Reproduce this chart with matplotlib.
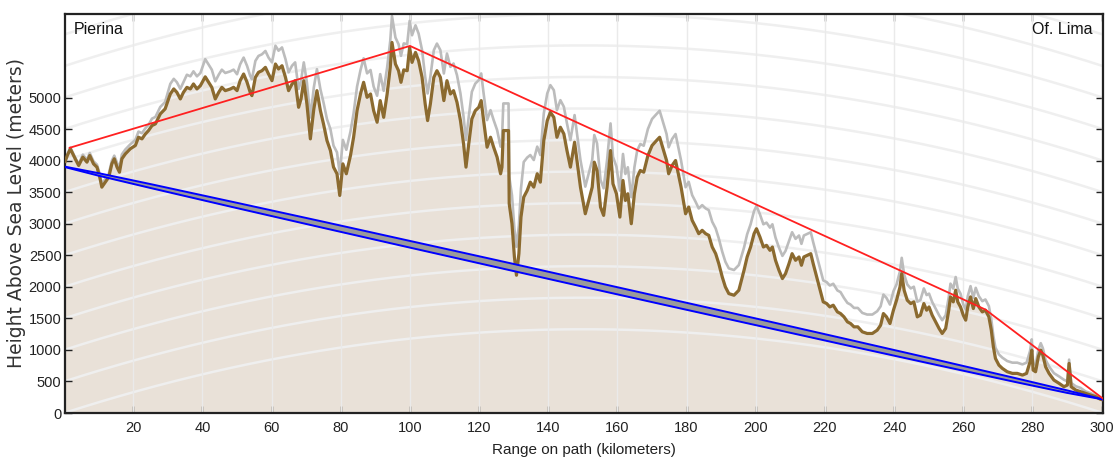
import numpy as np
import matplotlib
matplotlib.use("Agg")
import matplotlib.pyplot as plt

# ---------------- data ----------------
dist_km = [0.3, 0.9, 1.8, 3.2, 4.2, 5.4, 6.6, 7.4, 8.5, 9.5, 10.3, 10.9, 11.9, 12.9, 13.8, 14.5,
           15.3, 16.0, 16.7, 17.7, 19.1, 20.6, 21.5, 22.5, 23.5, 24.4, 25.4, 26.4, 27.8, 29.2,
           30.7, 31.7, 32.6, 33.6, 34.5, 35.5, 36.5, 37.4, 38.4, 39.4, 40.8, 41.8, 42.7, 43.7,
           44.7, 45.6, 46.6, 48.1,
           49.0, 50.0, 50.9, 51.9, 52.9, 53.8, 54.3, 55.3, 56.2, 57.2, 58.2, 59.1, 60.1, 61.1,
           62.0, 63.0, 64.0, 64.9, 65.9, 66.8, 67.8, 68.5, 69.3, 70.2, 71.2, 72.2, 73.1, 74.1,
           75.0, 76.0, 77.0, 77.9, 78.9, 79.7, 80.6, 81.6, 82.8, 83.7, 84.7, 85.7, 86.6, 87.6,
           88.6, 89.5, 90.5, 91.4, 92.4, 93.4, 94.3, 94.8, 95.8, 96.7, 97.4, 98.2, 99.2, 99.9,
           100.6, 101.6, 102.5, 103.5, 104.4, 105.1, 105.9, 106.9, 107.8, 108.8, 109.8, 110.7,
           111.7, 112.6, 113.6, 114.6, 115.5, 116.2, 117.0, 117.9, 118.9, 119.9, 120.6, 121.3,
           122.3, 123.3, 124.2, 125.2, 126.2, 126.6, 127.0, 128.5, 128.7, 129.5, 130.2, 130.8,
           131.5, 132.1, 132.9, 133.9, 134.8, 135.8, 136.8, 137.7, 138.7, 139.7, 140.6, 141.6,
           142.5, 143.5, 144.5, 145.4, 146.4,
           147.6, 148.3, 149.3, 150.7, 151.7, 152.7, 153.3, 154.1, 155.1, 156.0, 157.0, 158.0,
           158.7, 159.7, 160.7, 161.6, 162.3, 163.0, 164.0, 164.9, 165.7, 166.6, 167.6, 168.8,
           170.0, 171.3, 172.2, 173.2, 174.2, 174.8, 175.8, 176.8, 177.4, 178.4, 179.7, 180.6,
           181.6, 182.6, 183.5, 184.5, 185.5, 186.4, 187.4, 188.4, 189.3, 190.3, 191.2, 192.2,
           193.7, 195.1,
           196.6, 197.5, 198.5, 199.5, 200.2, 201.2, 202.2, 203.1, 204.1, 204.8, 205.7, 206.7,
           207.7, 208.6, 209.6, 210.5, 211.5, 212.5, 213.2, 213.9, 214.9, 215.9, 216.6, 217.6,
           218.6, 219.5, 220.5, 221.4, 222.4, 223.6, 224.5, 225.5, 226.5, 227.4, 228.4, 229.5,
           230.8, 232.2, 233.7, 235.1, 236.1, 236.9, 237.8, 238.8, 239.8, 240.7, 241.7, 242.2,
           242.9, 243.8,
           244.8, 245.7, 246.7, 247.6, 248.6, 249.4, 250.1, 251.0, 252.0, 253.0, 253.9, 254.9,
           255.8, 256.3, 257.1, 257.8, 258.4, 259.2, 260.0, 260.7, 261.3, 262.1, 262.9, 263.6,
           264.5, 265.5, 266.4, 267.4, 268.1, 268.7, 269.3, 270.3, 271.3, 272.7, 274.2, 275.6,
           277.1, 278.3, 279.3, 279.8, 280.2, 280.9, 281.7, 282.4, 283.0, 283.8, 284.8, 286.2,
           287.7, 289.1, 290.1, 290.6, 291.2, 292.5, 293.9, 295.4, 296.8, 298.3, 299.7, 300.3]

terrain_m = [3990, 4080, 4188, 4030, 3924, 4056, 3977, 4082, 3950, 3897, 3739, 3581, 3660, 3739, 3950, 4030,
             3897, 3818, 4030, 4108, 4188, 4241, 4372, 4346, 4425, 4478, 4557, 4584, 4742, 4821,
             5058, 5138, 5084, 4979, 5084, 5163, 5138, 5217, 5138, 5190, 5330, 5242, 5163, 4979,
             5084, 5163, 5111, 5138,
             5164, 5111, 5269, 5375, 5243, 5084, 5032, 5322, 5401, 5427, 5480, 5375, 5269, 5533,
             5454, 5506, 5322, 5111, 5216, 5269, 4847, 4979, 5269, 4900, 4346, 4821, 5111, 4794,
             4583, 4320, 4161, 3898, 3793, 3449, 3950, 3793, 4082, 4372, 4794, 5058, 5243, 5005,
             5058, 4794, 4610, 4953, 4688, 5058, 5480, 5875, 5533, 5427, 5243, 5440, 5427, 5796,
             5559, 5717, 5585, 5322, 4900, 4636, 4900, 5322, 5427, 5322, 4953, 5269,
             5058, 5111, 4926, 4636, 4267, 3898, 4267, 4663, 4794, 4847, 4953, 4636,
             4214, 4372, 4214, 4056, 3793, 3898, 4478, 4478, 3318, 3001, 2474, 2184,
             2526, 3106, 3423, 3528, 3660, 3581, 3793, 3660, 4320, 4636, 4768, 4688,
             4372, 4530, 4425, 4161, 3898,
             4293, 4003, 3581, 3159, 3370, 3581, 3977, 3845, 3265, 3133, 3581, 4161,
             3634, 3476, 3106, 3687, 3370, 3476, 3001, 3476, 3739, 3845, 3818, 4082,
             4241, 4320, 4372, 4188, 4003, 3793, 3924, 4003, 3845, 3581, 3159, 3265,
             3054, 2948, 2843, 2896, 2843, 2817, 2632, 2526, 2368, 2157, 1999, 1893,
             1867, 1946,
             2263, 2474, 2632, 2843, 2922, 2790, 2632, 2658, 2579, 2632, 2421, 2263,
             2131, 2210, 2368, 2526, 2421, 2474, 2342, 2474, 2500, 2526, 2368, 2157,
             1946, 1762, 1735, 1682, 1709, 1603, 1577, 1524, 1445, 1419, 1366, 1366,
             1287, 1261, 1261, 1313, 1392, 1577, 1524, 1419, 1630, 1788, 1999, 2210,
             1946, 1788,
             1735, 1762, 1524, 1551, 1735, 1630, 1682, 1551, 1445, 1340, 1261, 1340,
             1630, 1841, 1762, 1946, 1762, 1682, 1551, 1472, 1682, 1841, 1656, 1814,
             1682, 1603, 1630, 1524, 1313, 1050, 865, 759, 707, 654, 628, 628,
             601, 628, 812, 997, 680, 654, 891, 997, 918, 733, 628, 522,
             470, 417, 443, 786, 417, 364, 338, 311, 285, 259, 216, 210]

clutter_m = [4010, 4100, 4208, 4050, 3944, 4096, 4017, 4122, 3990, 3937, 3789, 3631, 3710, 3789, 4000, 4080,
             3967, 3888, 4100, 4178, 4258, 4331, 4462, 4436, 4515, 4568, 4667, 4694, 4852, 4931,
             5218, 5298, 5244, 5139, 5244, 5363, 5338, 5417, 5338, 5390, 5610, 5522, 5443, 5259,
             5364, 5443, 5391, 5418,
             5444, 5371, 5529, 5635, 5503, 5344, 5292, 5582, 5661, 5687, 5740, 5635, 5559, 5823,
             5744, 5796, 5612, 5401, 5506, 5559, 5137, 5269, 5559, 5240, 4686, 5161, 5451, 5134,
             4923, 4660, 4501, 4238, 4133, 3789, 4330, 4173, 4462, 4752, 5174, 5438, 5623, 5385,
             5438, 5174, 5030, 5373, 5108, 5478, 5900, 6295, 5953, 5847, 5663, 5860, 5847, 6216,
             5989, 6147, 6015, 5752, 5330, 5066, 5330, 5752, 5857, 5752, 5383, 5699,
             5488, 5541, 5356, 5066, 4697, 4328, 4697, 5093, 5224, 5277, 5383, 5066,
             4644, 4802, 4644, 4486, 4223, 4328, 4908, 4908, 3748, 3451, 2924, 2634,
             2976, 3556, 3980, 4050, 4090, 4011, 4223, 4090, 4750, 5066, 5198, 5118,
             4802, 4960, 4855, 4591, 4328,
             4723, 4433, 4011, 3589, 3800, 4011, 4407, 4275, 3695, 3563, 4011, 4591,
             4064, 3906, 3526, 4107, 3790, 3896, 3421, 3896, 4159, 4265, 4238, 4502,
             4661, 4740, 4792, 4608, 4423, 4213, 4344, 4423, 4265, 4001, 3579, 3665,
             3454, 3348, 3243, 3296, 3243, 3217, 3032, 2926, 2768, 2557, 2399, 2293,
             2267, 2346,
             2623, 2834, 2992, 3203, 3282, 3150, 2992, 3018, 2939, 2992, 2781, 2623,
             2491, 2570, 2728, 2866, 2761, 2814, 2682, 2814, 2840, 2866, 2708, 2497,
             2286, 2102, 2075, 2022, 2049, 1943, 1917, 1824, 1745, 1719, 1666, 1666,
             1587, 1561, 1561, 1613, 1692, 1877, 1824, 1719, 1930, 2038, 2249, 2460,
             2196, 2038,
             1975, 2002, 1764, 1791, 1975, 1870, 1892, 1761, 1655, 1550, 1471, 1550,
             1840, 2051, 1972, 2156, 1972, 1892, 1721, 1642, 1852, 2011, 1826, 1984,
             1852, 1773, 1800, 1694, 1483, 1220, 1035, 929, 877, 824, 798, 798,
             771, 798, 982, 1167, 790, 764, 1001, 1107, 1028, 843, 738, 632,
             580, 527, 503, 846, 477, 424, 398, 341, 315, 279, 226, 210]

# red line of sight (through the repeater near km 100)
los_km = [1.6, 100.0, 266.4, 300.3]
los_m = [4205, 5820, 1640, 232]

# blue zone (upper / lower edges)
zone_km = [0.3, 10, 25, 50, 75, 100, 125, 150, 175, 200, 225, 250, 275, 290, 300.3]
zone_top_m = [3905, 3802, 3629, 3332, 3032, 2728, 2424, 2117, 1809, 1499, 1187, 873, 554, 359, 216]
zone_bot_m = [3898, 3762, 3567, 3248, 2934, 2622, 2312, 2003, 1697, 1393, 1089, 789, 492, 319, 216]

x_ticks = list(range(20, 301, 20))
y_ticks = list(range(0, 5001, 500))
site_left = "Pierina"
site_right = "Of. Lima"
x_title = "Range on path (kilometers)"
y_title = "Height Above Sea Level (meters)"

# ---------------- styling ----------------
plt.rcParams['font.family'] = ['Liberation Sans', 'DejaVu Sans']

fig = plt.figure(figsize=(11.13, 4.61), dpi=100)
ax = fig.add_axes([65 / 1113, 1 - 413 / 461, 1038 / 1113, 399 / 461])

XMIN, XMAX = 0.25, 300.4
YMAX = 6326

# earth-curvature reference arcs (grid)
path_len = XMAX
k_factor = 4.0 / 3.0
R_earth = 6371.0
d = np.linspace(XMIN, XMAX, 400)
bulge = d * (path_len - d) / (2 * k_factor * R_earth) * 1000.0

x = np.array(dist_km)
t = np.array(terrain_m)
g = np.array(clutter_m)

ax.fill_between(x, 0, t, color='#e9e1d8', lw=0, zorder=1)
for lvl in range(0, 6001, 500):
    ax.plot(d, lvl + bulge, color='#efefef', lw=1.8, zorder=1.5, solid_capstyle='butt')
for xt in x_ticks:
    ax.axvline(xt, color='#eaeaea', lw=1.0, zorder=1.6)

ax.plot(x, g, color='#bcbcbc', lw=1.9, zorder=2)
ax.plot(x, t, color='#8b6a2f', lw=2.3, zorder=3)

ax.fill_between(zone_km, zone_bot_m, zone_top_m, color='#9a9a9a', lw=0, zorder=4)
ax.plot(zone_km, zone_top_m, color='#0000ff', lw=1.4, zorder=4.5)
ax.plot(zone_km, zone_bot_m, color='#0000ff', lw=1.4, zorder=4.5)

ax.plot(los_km, los_m, color='#ff2020', lw=1.3, zorder=5)

ax.set_xlim(XMIN, XMAX)
ax.set_ylim(0, YMAX)
ax.set_xticks(x_ticks)
ax.set_yticks(y_ticks)
ax.tick_params(direction='in', length=5, width=1, colors='#222222',
               top=True, right=True, labelsize=10.5)
ax.tick_params(axis='x', pad=6)
ax.tick_params(axis='y', pad=2.5)
for sp in ax.spines.values():
    sp.set_linewidth(1.6)
    sp.set_color('#222222')

ax.set_xlabel(x_title, fontsize=11, color='#222222')
ax.xaxis.set_label_coords(0.5, -0.075)
ax.set_ylabel(y_title, fontsize=13.5, color='#333333', family='DejaVu Sans')
ax.yaxis.set_label_coords(-0.038, 0.5)

ax.text(0.008, 0.962, site_left, transform=ax.transAxes, ha='left', va='center',
        fontsize=11.5, color='#111111', zorder=6)
ax.text(0.990, 0.962, site_right, transform=ax.transAxes, ha='right', va='center',
        fontsize=11.5, color='#111111', zorder=6)

fig.savefig('out.png', dpi=100)
